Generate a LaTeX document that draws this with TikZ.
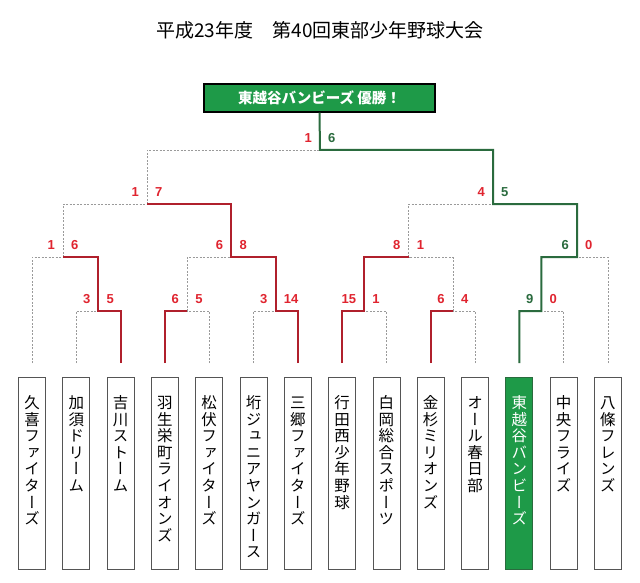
\documentclass[tikz,border=0pt]{standalone}
\usepackage{fontspec}
\newfontfamily\cjk{Noto Sans CJK JP}
\newfontfamily\cjkv[RawFeature=+vert]{Noto Sans CJK JP}
\newfontfamily\numfont{Liberation Sans}
\definecolor{lred}{HTML}{B0202C}
\definecolor{nred}{HTML}{E0242F}
\definecolor{lgreen}{HTML}{2A6B3E}
\definecolor{wingreen}{HTML}{1E9A48}
\definecolor{boxgray}{HTML}{555555}
\definecolor{dgray}{HTML}{9A9A9A}
\makeatletter
\newcommand\tate[1]{\vtop{\baselineskip=16.6pt\lineskiplimit=-100pt\@tfor\tate@c:=#1\do{\hbox to 16pt{\hss\tate@c\hss}}}}
\makeatother
\newcommand\score[5]{%
  \node[num,text=#3,anchor=east] (#1-l) at ([shift={(-8,-12)}]#1) {#2};
  \node[num,text=#5,anchor=west] (#1-r) at ([shift={(8,-12)}]#1) {#4};}
\begin{document}
\begin{tikzpicture}[x=1pt,y=-1pt,
  team/.style={draw=boxgray, line width=0.8pt, minimum width=27pt, inner sep=0pt,
    text height=31pt, text depth=161pt, anchor=north,
    font=\cjkv\fontsize{15.5}{16.6}\selectfont},
  winteam/.style={team, fill=wingreen, draw=lgreen, text=white},
  num/.style={inner sep=0pt, font=\numfont\bfseries\fontsize{13}{13}\selectfont},
  lose/.style={draw=dgray, line width=0.7pt, dash pattern=on 2pt off 1.5pt},
  wred/.style={draw=lred, line width=2pt},
  wgreen/.style={draw=lgreen, line width=2pt}]
\fill[white] (0,0) rectangle (640,583);
\useasboundingbox (0,0) rectangle (640,583);

\node[font=\cjk\fontsize{19}{19}\selectfont] (title) at (320,30) {平成23年度　第40回東部少年野球大会};

\node[draw=black, line width=1.2pt, fill=wingreen, text=white, minimum width=231pt,
  minimum height=28pt, inner sep=0pt, font=\cjk\bfseries\fontsize{14.5}{14.5}\selectfont]
  (win) at (319.5,98) {東越谷バンビーズ 優勝！};

\foreach \i/\n/\s in {1/久喜ファイターズ/team, 2/加須ドリーム/team, 3/吉川ストーム/team,
  4/羽生栄町ライオンズ/team, 5/松伏ファイターズ/team, 6/垳ジュニアヤンガース/team,
  7/三郷ファイターズ/team, 8/行田西少年野球/team, 9/白岡総合スポーツ/team,
  10/金杉ミリオンズ/team, 11/オール春日部/team, 12/東越谷バンビーズ/winteam,
  13/中央フライズ/team, 14/八條フレンズ/team}{
  \node[\s] (t\i) at ({32+44.3*(\i-1)},377) {\expandafter\tate\expandafter{\n}};
  \coordinate (l\i) at ({32+44.3*(\i-1)},363);
}

\coordinate (m23) at (98.45,311);
\coordinate (m45) at (187.05,311);
\coordinate (m67) at (275.65,311);
\coordinate (m89) at (364.25,311);
\coordinate (m1011) at (452.85,311);
\coordinate (m1213) at (541.45,311);
\coordinate (mA) at (63,257);
\coordinate (mB) at (231.35,257);
\coordinate (mC) at (408.55,257);
\coordinate (mD) at (577,257);
\coordinate (mL) at (147,204);
\coordinate (mR) at (493,204);
\coordinate (mF) at (320,150);

% losing paths
\draw[lose] (l2) |- (m23);
\draw[lose] (l5) |- (m45);
\draw[lose] (l6) |- (m67);
\draw[lose] (l9) |- (m89);
\draw[lose] (l11) |- (m1011);
\draw[lose] (l13) |- (m1213);
\draw[lose] (l1) |- (mA);
\draw[lose] (m45) |- (mB);
\draw[lose] (m1011) |- (mC);
\draw[lose] (l14) |- (mD);
\draw[lose] (mA) |- (mL);
\draw[lose] (mC) |- (mR);
\draw[lose] (mL) |- (mF);

% winning paths
\draw[wred] (l3) |- (m23) |- (mA);
\draw[wred] (l4) |- (m45);
\draw[wred] (l7) |- (m67) |- (mB) |- (mL);
\draw[wred] (l8) |- (m89) |- (mC);
\draw[wred] (l10) |- (m1011);
\draw[wgreen] (l12) |- (m1213) |- (mD) |- (mR) |- (mF) -- (win.south);

% scores
\score{m23}{3}{nred}{5}{nred}
\score{m45}{6}{nred}{5}{nred}
\score{m67}{3}{nred}{14}{nred}
\score{m89}{15}{nred}{1}{nred}
\score{m1011}{6}{nred}{4}{nred}
\score{m1213}{9}{lgreen}{0}{nred}
\score{mA}{1}{nred}{6}{nred}
\score{mB}{6}{nred}{8}{nred}
\score{mC}{8}{nred}{1}{nred}
\score{mD}{6}{lgreen}{0}{nred}
\score{mL}{1}{nred}{7}{nred}
\score{mR}{4}{nred}{5}{lgreen}
\score{mF}{1}{nred}{6}{lgreen}
\end{tikzpicture}
\end{document}
